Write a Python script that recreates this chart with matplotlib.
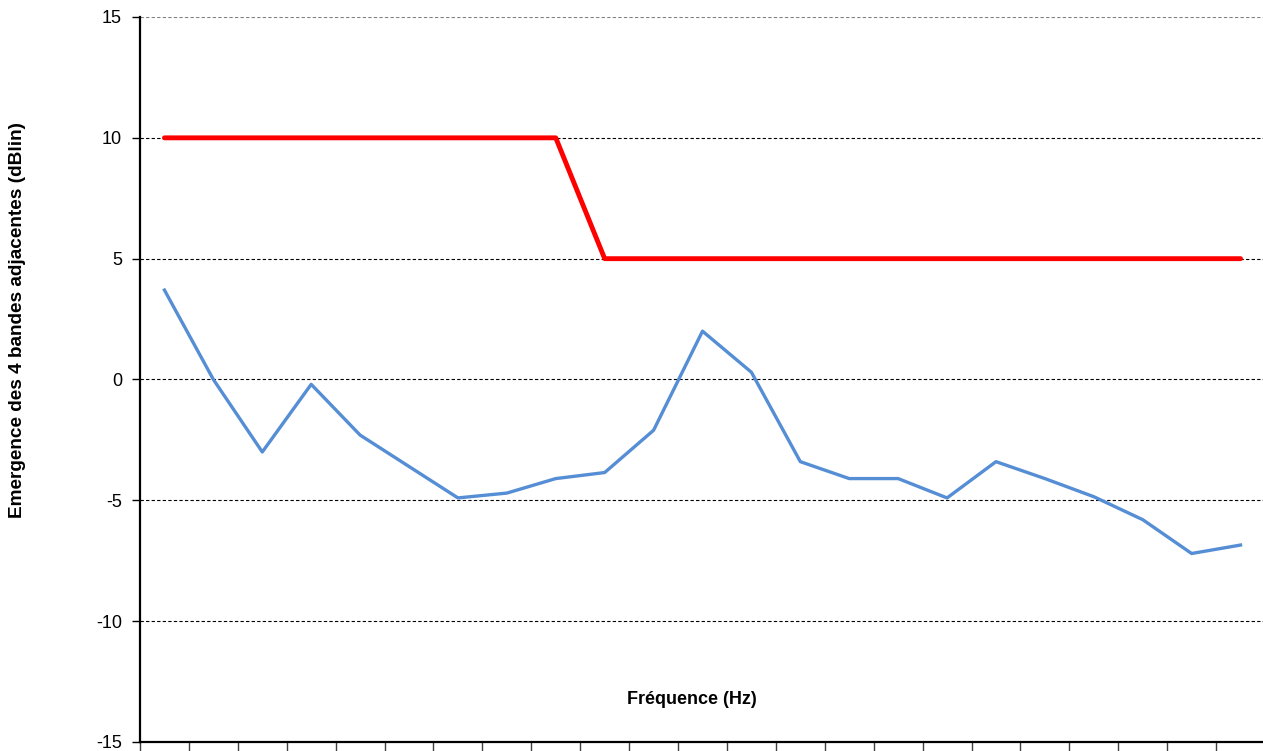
import numpy as np
import matplotlib.pyplot as plt

plt.rcParams['font.family'] = ['Liberation Sans', 'DejaVu Sans']

# one value per frequency band (23 bands, no labels shown)
bands = np.arange(23)
emergence = [3.7, 0.0, -3.0, -0.2, -2.3, -3.6, -4.9, -4.7, -4.1, -3.85, -2.1, 2.0,
             0.3, -3.4, -4.1, -4.1, -4.9, -3.4, -4.1, -4.85, -5.8, -7.2, -6.85]
limite = [10, 10, 10, 10, 10, 10, 10, 10, 10, 5, 5, 5,
          5, 5, 5, 5, 5, 5, 5, 5, 5, 5, 5]
yticks = [-15, -10, -5, 0, 5, 10, 15]

fig = plt.figure(figsize=(12.63, 7.51), dpi=100)
ax = fig.add_axes([140/1263, 1 - 742/751, 1125/1263, 725/751])

for yv in yticks[1:]:
    c = '#808080' if yv == 15 else 'black'
    ax.axhline(yv, color=c, linestyle=(0, (3, 2)), linewidth=0.8, zorder=1)

ax.plot(bands, limite, color='#ff0000', linewidth=3.5, solid_capstyle='round', zorder=3)
ax.plot(bands, emergence, color='#558ed5', linewidth=2.4, zorder=3)

ax.set_xlim(-0.5, 22.5)
ax.set_ylim(-15, 15)
ax.set_yticks(yticks)
ax.set_yticklabels([str(v) for v in yticks], fontsize=13)
ax.set_xticks(np.arange(-0.5, 23, 1))
ax.set_xticklabels([])
ax.tick_params(axis='x', direction='out', length=9, width=1, color='#404040')
ax.tick_params(axis='y', direction='out', length=6, width=1, pad=7)

for s in ['top', 'right']:
    ax.spines[s].set_visible(False)
ax.spines['left'].set_linewidth(1.6)
ax.spines['bottom'].set_linewidth(1.6)

fig.text(692/1263, 1 - 699/751, 'Fréquence (Hz)', fontsize=13, fontweight='bold',
         ha='center', va='center')
fig.text(18/1263, 1 - 320/751, 'Emergence des 4 bandes adjacentes (dBlin)', fontsize=13.7,
         fontweight='bold', rotation=90, ha='center', va='center')

fig.savefig('out.png', dpi=100)
